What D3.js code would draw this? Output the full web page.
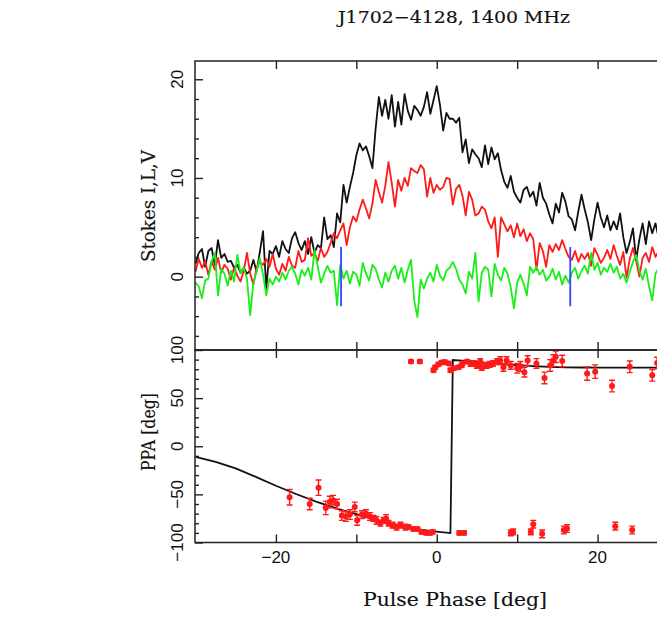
<!DOCTYPE html>
<html><head><meta charset="utf-8">
<script src="https://cdn.jsdelivr.net/npm/d3@7"></script>
<style>body{margin:0;background:#fff;overflow:hidden} svg{display:block}</style>
</head><body><svg id="c" width="657" height="617"></svg>
<script>
// ---------------- DATA ----------------
const PHASE_START = -30, BIN_WIDTH = 0.4;   // profile bins (deg)
const stokesI = [
 1.3, 2.4, 2.8, 1.0, 2.6,  2.9, 1.2, 3.7, 1.9, 2.3,  1.5, 1.6, 0.9, 1.2, 0.4,
 0.9, 0.3, 0.6, 1.7, 0.5,  2.5, 4.6, -1.2, 2.6, 2.3, 3.1, 2.0, 3.6, 2.8, 2.4,
 3.9, 4.5, 3.4, 2.7, 3.6,  2.3, 4.0, 2.4, 3.2, 2.9,  6.0, 3.8, 4.2, 3.0, 6.4,
 5.5, 9.3, 7.5, 9.1, 10.5, 12.3, 13.5, 12.8, 13.2, 12.2, 11.0, 15.0, 18.2, 16.3, 17.9,
 16.0, 18.4, 15.2, 17.7, 15.4, 18.5, 16.8, 15.9, 17.3, 16.9, 16.3, 17.2, 18.7, 16.5, 17.9,
 19.3, 17.4, 14.8, 16.6, 16.0, 16.0, 15.6, 16.1, 12.6, 13.9, 11.5, 12.9, 12.4, 12.0, 11.1,
 13.3, 11.4, 13.1, 11.9, 12.5, 10.8, 9.6, 9.0, 10.2, 8.6,  8.0, 7.5, 8.8, 9.1, 8.1,
 8.6, 7.2, 9.5, 8.0, 7.4,  6.3, 5.4, 7.4, 6.5, 8.5,  7.6, 6.1, 5.8, 4.7, 6.6,
 8.3, 6.8, 5.5, 3.7, 5.8,  7.5, 6.0, 5.0, 6.2, 4.7,  5.6, 4.8, 6.4, 4.0, 2.4,
 3.5, 4.9, 1.7, 3.8, 5.4,  3.3, 5.6, 4.4, 5.4, 3.9,  4.6, 3.6, 4.8, 3.7, 4.2, 3.9
];
const stokesL = [
 0.5, 1.8, 0.9, 1.5, 0.2,  1.6, 0.7, 1.9, 0.4, 1.2,  0.8, -0.3, 0.9, 0.1, -0.5,
 0.6, 2.4, 0.3, -0.8, 0.9, 1.5, 1.2, 1.8, 1.0, 2.3,  0.8, 0.2, 1.3, 0.6, 2.0,
 1.1, 0.9, 2.6, 1.5, 1.7,  3.9, 2.1, 2.4, 1.6, 2.9,  2.0, 2.5, 3.4, 4.4, 3.9,
 4.7, 5.4, 3.2, 5.0, 6.1,  5.6, 6.8, 7.8, 6.9, 5.9,  7.4, 9.8, 8.6, 7.5, 9.2,
 11.6, 9.5, 7.1, 9.8, 8.7, 10.0, 9.2, 11.0, 10.7, 10.5, 11.3, 10.9, 8.1, 10.0, 8.5,
 9.3, 8.8, 9.1, 10.0, 9.9, 7.3, 8.9, 9.3, 8.2, 6.2,  8.6, 7.8, 6.2, 6.4, 7.1,
 6.8, 5.6, 4.9, 6.0, 2.0,  6.0, 5.3, 4.6, 5.2, 4.0,  5.4, 4.1, 4.8, 3.6, 4.4,
 3.8, 0.7, 3.4, 2.6, 1.0,  3.2, 2.5, 3.3, 2.7, 3.7,  2.8, 2.0, 1.7, 2.6, 1.5,
 2.3, 1.8, 2.4, 1.1, 2.9,  2.2, 1.4, 1.9, 2.7, 1.8,  3.2, 2.1, 1.2, 2.5, -0.1,
 1.8, 2.9, 1.6, 0.0, 1.9,  2.4, 1.5, 3.0, 2.0, 2.6,  1.7, 2.8, 1.4, 2.2, 1.6, 2.1
];
const stokesV = [
 -0.6, -1.0, -2.2, -0.4, -0.2, 1.5, 2.4, -1.9, 0.8, 0.3, -0.9, 0.6, -0.5, 2.2, 0.4,
 0.9, -0.2, -3.9, -0.6, 0.5,  1.9, 0.2, -1.9, -0.2, -0.8, 0.0, -0.5, 0.4, -0.3, 0.6,
 1.0, 0.3, -0.8, 0.7, 0.1,  0.9, -0.3, 2.7, 1.0, -0.6,  0.3, 1.1, 0.4, 0.6, -2.9,
 1.2, -0.2, 0.6, -0.7, 0.5,  0.2, -0.9, 1.4, 0.3, -0.4,  1.2, 0.8, -0.3, -1.1, 0.4,
 -0.5, 0.6, 1.1, -0.2, 0.9, -0.6, 0.7, 1.7, -2.4, -4.1, -0.3, -1.2, -0.2, 0.4, -0.5,
 1.2, 0.1, -0.4, 0.6, 0.9,  1.5, 0.8, -0.3, -0.8, -1.7, 0.5, -0.2, 2.4, -2.5, 0.4,
 1.0, 0.7, -2.0, 1.3, 0.2,  -0.4, 0.9, 0.3, -1.1, -3.2, -0.6, 0.2, -0.7, -1.9, 1.0,
 0.4, 1.0, 0.2, 0.7, -0.4,  0.0, 0.8, -0.3, 0.5, -0.8,  0.1, -0.6, 0.4, 0.9, -0.2,
 0.6, 1.1, 0.3, 2.4, 0.7,  1.4, 0.2, 0.9, 0.5, 1.3,  0.4, 1.0, -0.2, 0.3, -0.6,
 0.5, 1.5, 2.2, 0.6, -0.3,  0.8, -1.0, -2.4, 0.3, 0.9, -0.2, 0.6, -0.5, 0.4, 0.1, -0.3
];
const markerPhase = [-11.9, 16.6];   // blue window markers
const markerRange = [-3, 3];

const ppaPhase = [
 -18.3, -15.8, -14.7, -13.8, -13.3, -12.9, -12.4, -11.8, -11.3, -10.8, -10.2, -9.9, -9.3, -8.8, -8.3,
 -7.9, -7.5, -7.0, -6.6, -6.3, -6.0, -5.5, -5.0, -4.5, -3.9, -3.5, -2.9, -2.4, -1.9, -1.3, -0.8, -0.5,
 -3.2, -2.1, -0.4, -0.2, 0.2, 0.6, 1.0, 1.5, 1.7, 2.1, 2.7, 3.1, 3.2, 3.8, 4.2, 4.6, 5.0, 5.4, 5.6,
 6.2, 6.6, 7.0, 7.5, 7.9, 8.3, 8.7, 9.2, 10.0, 10.4, 10.9, 11.3, 12.4, 13.4, 14.1, 14.5, 14.8, 15.6,
 18.7, 19.7, 21.8, 24.0, 26.8, 27.4,
 2.8, 3.4, 9.2, 9.5, 11.7, 12.0, 13.1, 15.8, 16.2, 22.2, 24.3
];
const ppaValue = [
 -53, -60, -43, -64, -58, -56, -60, -72, -73, -71, -63, -77, -71, -70, -73,
 -75, -77, -80, -77, -75, -80, -82, -84, -82, -84, -84, -86, -86, -89, -90, -90, -89,
 88, 88, 79, 82, 85, 87, 87.5, 86, 79, 81, 82, 84, 86, 88, 86, 86, 84, 88, 82,
 84, 85, 86, 88, 89, 82, 89, 84, 81, 83, 77, 89, 86, 71, 84, 89, 93, 88.6,
 75.5, 77.5, 62.5, 82.5, 73.7, 86.5,
 -90, -90, -90, -89, -89, -81, -91, -87, -85.5, -83, -87
];
const ppaErr = [
 8, 6, 8, 7, 6, 5, 5, 5, 5, 5, 5, 5, 4, 4, 4,
 3, 4, 3, 3, 4, 3, 3, 3, 3, 3, 2, 2, 2, 2, 2, 2, 2,
 1.5, 1.5, 2, 2, 2, 2, 2, 2, 2, 2, 2, 2, 2, 2, 3, 3, 3, 3, 3,
 3, 3, 3, 3, 4, 4, 4, 4, 5, 5, 5, 5, 5, 6, 6, 6, 6, 6,
 7, 7, 6, 6, 6, 6,
 2, 2, 3, 3, 3, 4, 4, 4, 4, 4, 4
];
const fitPhase = [-30, -27.5, -25, -22.5, -20, -17.5, -15, -12.5, -10, -7.5, -5, -2.5, 0, 1.7, 2.0, 4, 6, 8, 10, 12, 14, 16, 18, 20, 25, 30];
const fitPPA   = [-11, -16.3, -23, -31.8, -41, -49.6, -57.6, -64.6, -70.6, -76.6, -81.8, -86, -88.6, -90.2, 89.6, 88.4, 86.7, 85.3, 84.2, 83.3, 82.5, 82, 81.8, 81.7, 81.6, 81.6];

const xTicks = [-20, -10, 0, 10, 20];
const xTickLabels = [-20, 0, 20];
const yTopMajor = [0, 10, 20];
const yTopMinor = [-6, -4, -2, 2, 4, 6, 8, 12, 14, 16, 18];
const yBotMajor = [-100, -50, 0, 50, 100];
const yBotMinor = [-90, -80, -70, -60, -40, -30, -20, -10, 10, 20, 30, 40, 60, 70, 80, 90];

// ---------------- LAYOUT ----------------
const svg = d3.select("#c");
const L = 195, R = 678, T = 61, M = 350, B = 542.5;
const x = d3.scaleLinear().domain([-30, 30]).range([L + 0.5, R]);
const yTop = d3.scaleLinear().domain([-7.43, 21.85]).range([M, T]);
const yBot = d3.scaleLinear().domain([-100, 100]).range([B, M]);
const minus = v => (v < 0 ? "\u2212" + Math.abs(v) : String(v));

const defs = svg.append("defs");
defs.append("clipPath").attr("id", "cTop").append("rect").attr("x", L).attr("y", T).attr("width", R - L).attr("height", M - T);
defs.append("clipPath").attr("id", "cBot").append("rect").attr("x", L).attr("y", M).attr("width", R - L).attr("height", B - M);

// profile lines
const phases = stokesI.map((_, i) => PHASE_START + i * BIN_WIDTH);
const gTop = svg.append("g").attr("clip-path", "url(#cTop)");
const line = d3.line().x((d, i) => x(phases[i])).y(d => yTop(d));
[[stokesI, "#111"], [stokesL, "#ff1a1a"], [stokesV, "#1aee1a"]].forEach(([s, c]) => {
  gTop.append("path").datum(s).attr("d", line).attr("fill", "none")
    .attr("stroke", c).attr("stroke-width", 1.8).attr("stroke-linejoin", "round");
});
gTop.selectAll("line.mk").data(markerPhase).join("line")
  .attr("x1", d => x(d)).attr("x2", d => x(d))
  .attr("y1", yTop(markerRange[0])).attr("y2", yTop(markerRange[1]))
  .attr("stroke", "#3344ff").attr("stroke-width", 1.8);

// PPA panel
const gBot = svg.append("g").attr("clip-path", "url(#cBot)");
const fit = fitPhase.map((p, i) => [p, fitPPA[i]]);
gBot.append("path").datum(fit)
  .attr("d", d3.line().x(d => x(d[0])).y(d => yBot(d[1])))
  .attr("fill", "none").attr("stroke", "#111").attr("stroke-width", 1.8);
const pts = ppaPhase.map((p, i) => ({ p, v: ppaValue[i], e: ppaErr[i] }));
const gp = gBot.append("g").attr("stroke", "#ff1a1a").attr("stroke-width", 1.4).attr("fill", "#ff1a1a");
pts.forEach(d => {
  const cx = x(d.p), y1 = yBot(d.v - d.e), y2 = yBot(d.v + d.e);
  gp.append("line").attr("x1", cx).attr("x2", cx).attr("y1", y1).attr("y2", y2);
  gp.append("line").attr("x1", cx - 3).attr("x2", cx + 3).attr("y1", y1).attr("y2", y1);
  gp.append("line").attr("x1", cx - 3).attr("x2", cx + 3).attr("y1", y2).attr("y2", y2);
  gp.append("circle").attr("cx", cx).attr("cy", yBot(d.v)).attr("r", 3).attr("stroke", "none");
});

// frames
[[T, M], [M, B]].forEach(([a, b]) => {
  svg.append("rect").attr("x", L).attr("y", a).attr("width", R - L + 20).attr("height", b - a)
    .attr("fill", "none").attr("stroke", "#222").attr("stroke-width", 1.5);
});

// ticks via d3 axes (inward)
function ax(gen, tx, ty) {
  const g = svg.append("g").attr("transform", `translate(${tx},${ty})`).call(gen);
  g.select(".domain").remove();
  g.selectAll("text").remove();
  g.selectAll("line").attr("stroke", "#222").attr("stroke-width", 1.4);
}
ax(d3.axisBottom(x).tickValues(xTicks).tickSize(8), 0, T);
ax(d3.axisTop(x).tickValues(xTicks).tickSize(8), 0, M);
ax(d3.axisBottom(x).tickValues(xTicks).tickSize(8), 0, M);
ax(d3.axisTop(x).tickValues(xTicks).tickSize(8), 0, B);
ax(d3.axisRight(yTop).tickValues(yTopMajor).tickSize(8), L, 0);
ax(d3.axisRight(yTop).tickValues(yTopMinor).tickSize(4), L, 0);
ax(d3.axisRight(yBot).tickValues(yBotMajor).tickSize(8), L, 0);
ax(d3.axisRight(yBot).tickValues(yBotMinor).tickSize(4), L, 0);

// tick labels
const tf = "'Liberation Sans', Arial, sans-serif";
svg.selectAll("text.xt").data(xTickLabels).join("text")
  .attr("x", d => x(d)).attr("y", 563).attr("text-anchor", "middle")
  .attr("font-family", tf).attr("font-size", 17).attr("fill", "#111").text(minus);
function yLabels(vals, sc) {
  vals.forEach(v => {
    svg.append("text").attr("transform", `translate(183,${sc(v)}) rotate(-90)`)
      .attr("text-anchor", "middle").attr("font-family", tf).attr("font-size", 17)
      .attr("fill", "#111").text(minus(v));
  });
}
yLabels(yTopMajor, yTop);
yLabels(yBotMajor, yBot);

// titles
const sf = "'DejaVu Serif', 'Liberation Serif', serif";
function title(t, tr, len, size) {
  svg.append("text").attr("transform", tr).attr("text-anchor", "middle")
    .attr("font-family", sf).attr("font-size", size).attr("fill", "#111")
    .attr("stroke", "#111").attr("stroke-width", 0.15)
    .attr("textLength", len).attr("lengthAdjust", "spacingAndGlyphs").text(t);
}
title("J1702\u22124128, 1400 MHz", "translate(454,23)", 232, 17);
title("Pulse Phase [deg]", "translate(455,606)", 184, 18);
title("Stokes I,L,V", "translate(155,206) rotate(-90)", 112, 18);
title("PPA [deg]", "translate(155,432) rotate(-90)", 78, 18);
</script></body></html>
